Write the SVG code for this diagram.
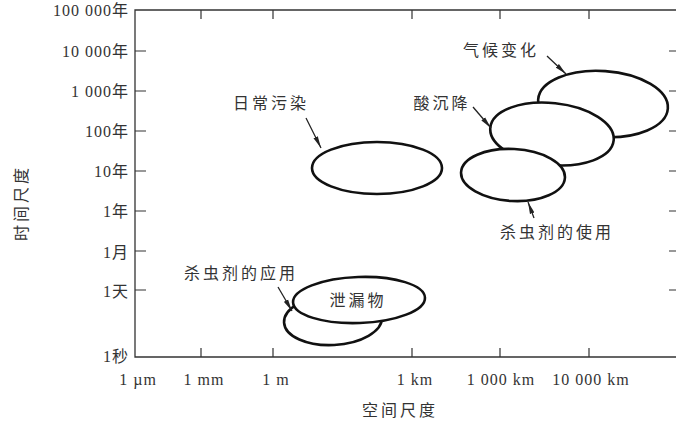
<svg xmlns="http://www.w3.org/2000/svg" width="676" height="425" viewBox="0 0 676 425">
<defs>
<marker id="ah" viewBox="0 0 12 6" refX="12" refY="3" markerWidth="12" markerHeight="6" markerUnits="userSpaceOnUse" orient="auto">
<path d="M0,0.6 L12,3 L0,5.4 Z" fill="#222"/>
</marker>
</defs>
<style>
.ax{stroke:#333;stroke-width:1.3;fill:none}
.tk{stroke:#333;stroke-width:1.2}
.t{font-family:"Liberation Serif","Noto Sans CJK SC",serif;font-size:16px;letter-spacing:1px;fill:#333}
.c{font-family:"Noto Sans CJK SC","Liberation Serif",sans-serif;font-size:16px;letter-spacing:3px;fill:#333}
.el{fill:#fff;stroke:#111;stroke-width:2.6}
.ar{stroke:#222;stroke-width:1.3;fill:none;marker-end:url(#ah)}
</style>
<rect width="676" height="425" fill="#fff"/>
<g id="axes">
<path class="ax" d="M676,10 H135 V357 H676"/>
<path class="tk" d="M135,51 h11 M135,91 h11 M135,131 h11 M135,171 h11 M135,211 h11 M135,251 h11 M135,290 h11"/>
<path class="tk" d="M676,51 h-7 M676,91 h-7 M676,131 h-7 M676,171 h-7 M676,211 h-7 M676,251 h-7 M676,290 h-7"/>
<path class="tk" d="M201,357 v-9 M273,357 v-9 M412,357 v-9 M500,357 v-9 M589,357 v-9"/>
<path class="tk" d="M201,10 v9 M273,10 v9 M412,10 v9 M500,10 v9 M589,10 v9"/>
</g>
<g id="ylabels" class="t" text-anchor="end">
<text x="129" y="16">100 000年</text>
<text x="129" y="57">10 000年</text>
<text x="129" y="97">1 000年</text>
<text x="129" y="137">100年</text>
<text x="129" y="177">10年</text>
<text x="129" y="217">1年</text>
<text x="129" y="258">1月</text>
<text x="129" y="297">1天</text>
<text x="129" y="362">1秒</text>
</g>
<g id="xlabels" class="t" text-anchor="middle">
<text x="138" y="385">1 µm</text>
<text x="204" y="385">1 mm</text>
<text x="276" y="385">1 m</text>
<text x="415" y="385">1 km</text>
<text x="501" y="385">1 000 km</text>
<text x="591" y="385">10 000 km</text>
</g>
<text class="c" x="400" y="416" text-anchor="middle">空间尺度</text>
<text class="c" transform="translate(27,203) rotate(-90)" text-anchor="middle">时间尺度</text>
<g id="daily">
<ellipse class="el" cx="377" cy="168" rx="65" ry="26"/>
<text class="c" x="271" y="109" text-anchor="middle">日常污染</text>
</g>
<g id="climate">
<ellipse class="el" cx="603" cy="104" rx="65" ry="33" transform="rotate(4 603 104)"/>
<text class="c" x="501" y="56" text-anchor="middle">气候变化</text>
</g>
<g id="acid">
<ellipse class="el" cx="552" cy="134" rx="62" ry="31" transform="rotate(6 552 134)"/>
<text class="c" x="442" y="109" text-anchor="middle">酸沉降</text>
</g>
<g id="pest-use">
<ellipse class="el" cx="513" cy="175" rx="52" ry="26" transform="rotate(3 513 175)"/>
<text class="c" x="557" y="238" text-anchor="middle">杀虫剂的使用</text>
</g>
<g id="pest-app">
<ellipse class="el" cx="333" cy="320" rx="49" ry="25" transform="rotate(-3 333 320)"/>
<text class="c" x="241" y="279" text-anchor="middle">杀虫剂的应用</text>
</g>
<g id="leak">
<ellipse class="el" cx="359" cy="300" rx="66" ry="23" transform="rotate(-2 359 300)"/>
<text class="c" x="358" y="306" text-anchor="middle">泄漏物</text>
</g>
<g id="connectors">
<line class="ar" x1="306" y1="118" x2="321" y2="148"/>
<line class="ar" x1="547" y1="56" x2="566" y2="74"/>
<line class="ar" x1="473" y1="107" x2="491" y2="128"/>
<line class="ar" x1="534" y1="218" x2="528" y2="202"/>
<line class="ar" x1="278" y1="287" x2="292" y2="311"/>
</g>
</svg>
